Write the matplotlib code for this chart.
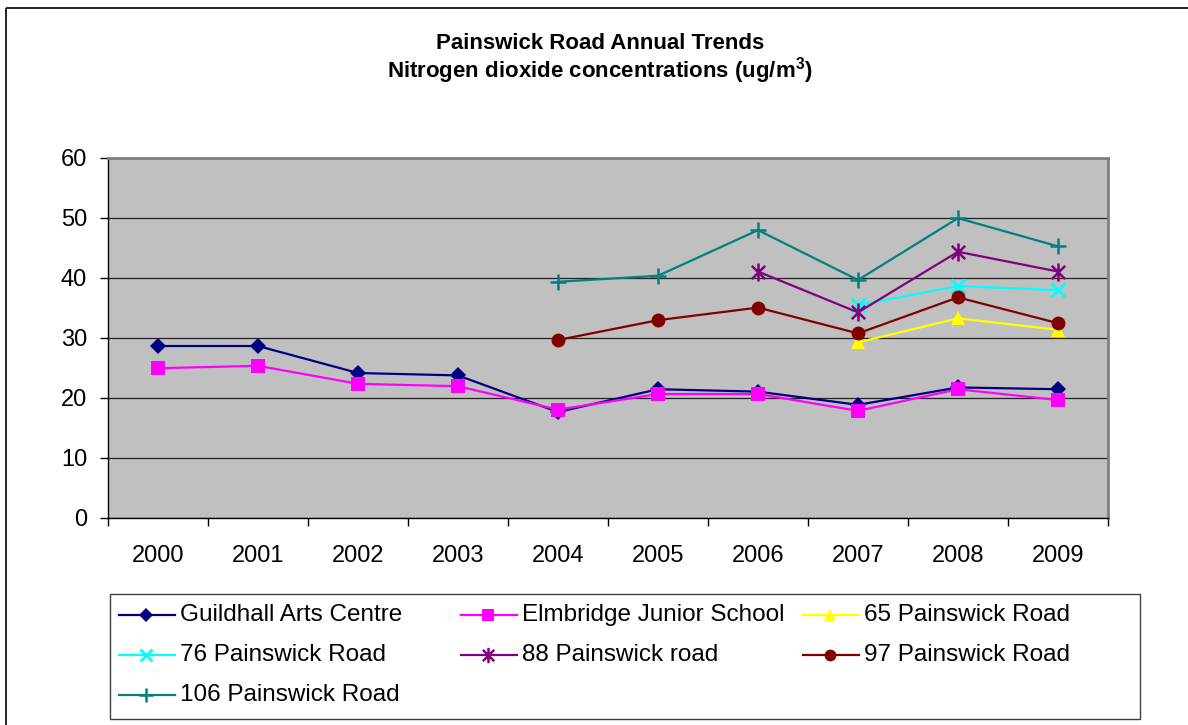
import numpy as np
import matplotlib
matplotlib.use("Agg")
import matplotlib.pyplot as plt
from matplotlib.lines import Line2D
from matplotlib.patches import Rectangle
from matplotlib.path import Path
from matplotlib import font_manager

years = ["2000", "2001", "2002", "2003", "2004", "2005", "2006", "2007", "2008", "2009"]
nan = np.nan

guildhall = [28.6, 28.6, 24.1, 23.7, 17.6, 21.4, 21.0, 18.8, 21.7, 21.4]
elmbridge = [24.9, 25.3, 22.3, 21.9, 18.0, 20.6, 20.6, 17.8, 21.4, 19.6]
painswick_65 = [nan, nan, nan, nan, nan, nan, nan, 29.2, 33.2, 31.3]
painswick_76 = [nan, nan, nan, nan, nan, nan, nan, 35.4, 38.6, 37.9]
painswick_88 = [nan, nan, nan, nan, nan, nan, 41.0, 34.2, 44.3, 41.0]
painswick_97 = [nan, nan, nan, nan, 29.6, 32.9, 35.0, 30.7, 36.7, 32.4]
painswick_106 = [nan, nan, nan, nan, 39.3, 40.3, 47.9, 39.6, 49.9, 45.2]

series_names = ["Guildhall Arts Centre", "Elmbridge Junior School", "65 Painswick Road",
                "76 Painswick Road", "88 Painswick road", "97 Painswick Road",
                "106 Painswick Road"]
series_values = [guildhall, elmbridge, painswick_65, painswick_76,
                 painswick_88, painswick_97, painswick_106]
y_ticks = [0, 10, 20, 30, 40, 50, 60]

# star marker: an x crossed with a vertical bar
star = Path([(-1, -1), (1, 1), (-1, 1), (1, -1), (0, -1.35), (0, 1.35)],
            [Path.MOVETO, Path.LINETO, Path.MOVETO, Path.LINETO, Path.MOVETO, Path.LINETO])

styles = [
    dict(color="#000080", marker="D", ms=8, mew=0),
    dict(color="#FF00FF", marker="s", ms=10, mew=0),
    dict(color="#FFFF00", marker="^", ms=10.5, mew=0),
    dict(color="#00FFFF", marker="x", ms=10, mew=2.0),
    dict(color="#800080", marker=star, ms=13, mew=1.8),
    dict(color="#800000", marker="o", ms=10, mew=0),
    dict(color="#008080", marker="+", ms=12, mew=1.8),
]

names = {f.name for f in font_manager.fontManager.ttflist}
base_font = "Liberation Sans" if "Liberation Sans" in names else "DejaVu Sans"

plt.rcParams["font.family"] = [base_font, "DejaVu Sans"]
plt.rcParams["mathtext.fontset"] = "custom"
plt.rcParams["mathtext.rm"] = base_font + ":bold"

W, H = 1188, 725
fig = plt.figure(figsize=(W / 100, H / 100), dpi=100)
fig.patch.set_facecolor("white")

def px(x0, y0, x1, y1):
    return [x0 / W, 1 - y1 / H, (x1 - x0) / W, (y1 - y0) / H]

ax = fig.add_axes(px(108, 157.5, 1108, 517.7))
ax.set_facecolor("#C0C0C0")

x = np.arange(len(years))
lines = []
for name, vals, st in zip(series_names, series_values, styles):
    ln, = ax.plot(x, vals, color=st["color"], lw=1.6, marker=st["marker"],
                  markersize=st["ms"], markeredgewidth=st["mew"],
                  markerfacecolor=st["color"], markeredgecolor=st["color"],
                  label=name, zorder=3, clip_on=False)
    lines.append(ln)

ax.set_xlim(-0.5, len(years) - 0.5)
ax.set_ylim(0, 60)
ax.set_yticks(y_ticks)
ax.set_yticklabels([str(v) for v in y_ticks])
ax.yaxis.grid(True, color="#222222", lw=0.9)
ax.set_axisbelow(True)

# category boundaries carry the tick marks, labels sit at category centres
ax.set_xticks(np.arange(len(years) + 1) - 0.5)
ax.set_xticklabels([])
ax.set_xticks(x, minor=True)
ax.set_xticklabels(years, minor=True)
ax.tick_params(axis="x", which="major", length=6, width=1, direction="out", color="black")
ax.tick_params(axis="x", which="minor", length=0, pad=20, labelsize=17)
ax.tick_params(axis="y", length=6, width=1, direction="out", pad=9, labelsize=17)

for s in ("left", "bottom"):
    ax.spines[s].set_color("black")
    ax.spines[s].set_linewidth(1.0)
for s in ("top", "right"):
    ax.spines[s].set_color("#808080")
    ax.spines[s].set_linewidth(2.0)

# title
fig.text(600 / W, 1 - 49 / H, "Painswick Road Annual Trends", ha="center",
         va="baseline", fontsize=16, fontweight="bold")
fig.text(600 / W, 1 - 78 / H, r"Nitrogen dioxide concentrations (ug/m$\mathregular{^{3}}$)",
         ha="center", va="baseline", fontsize=16, fontweight="bold")

# overlay in pixel units for the chart border and legend box
ov = fig.add_axes([0, 0, 1, 1], facecolor="none")
ov.set_xlim(0, W)
ov.set_ylim(H, 0)
ov.axis("off")
ov.add_patch(Rectangle((6, 8), W + 20, H + 20, fill=False, edgecolor="black", lw=1.2,
                       clip_on=False))
ov.add_patch(Rectangle((110, 594), 1030, 125, fill=False, edgecolor="#404040", lw=1.0))

col_x = [119, 461, 803]
row_y = [615, 655, 695]
for i, ln in enumerate(lines):
    cx = col_x[i % 3]
    cy = row_y[i // 3]
    ov.add_line(Line2D([cx, cx + 56], [cy, cy], color=ln.get_color(), lw=1.6))
    ov.add_line(Line2D([cx + 27], [cy], color=ln.get_color(), marker=ln.get_marker(),
                       markersize=ln.get_markersize() * 0.85,
                       markeredgewidth=ln.get_markeredgewidth(),
                       markerfacecolor=ln.get_color(), markeredgecolor=ln.get_color()))
    ov.text(cx + 61, cy, ln.get_label(), va="center", ha="left", fontsize=17.5)

fig.savefig("out.png", dpi=100)
